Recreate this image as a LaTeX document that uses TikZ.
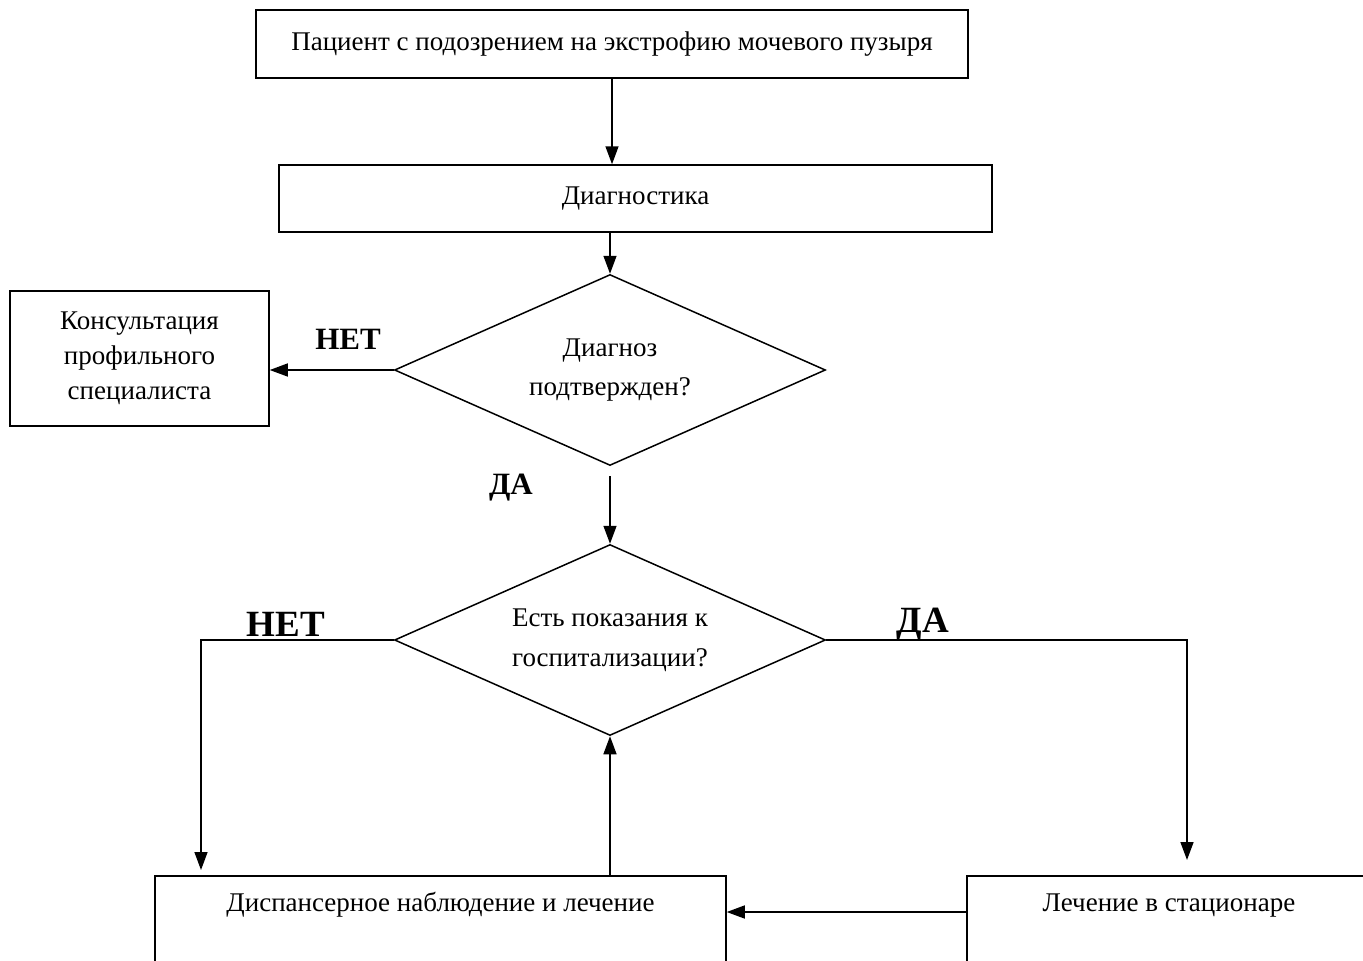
\documentclass[tikz,border=0pt]{standalone}
\usepackage{fontspec}
\setmainfont{Liberation Serif}
\usetikzlibrary{positioning,arrows.meta,shapes.geometric}

\begin{document}
\begin{tikzpicture}[x=1pt, y=-1pt,
  font=\fontsize{27}{37}\selectfont,
  box/.style={draw, line width=1.5pt, align=center, inner sep=0pt},
  choice/.style={draw, diamond, aspect=2.26, line width=1.5pt, inner sep=0pt, minimum width=431pt, minimum height=191pt},
  flow/.style={-{Triangle[length=18pt, width=13pt]}, line width=1.5pt},
  link/.style={line width=1.5pt},
  lbl/.style={font=\fontsize{31}{31}\selectfont\bfseries},
  biglbl/.style={font=\fontsize{37}{37}\selectfont\bfseries}
]
  \clip (0,0) rectangle (1363,961);
  % boxes
  \node[box, minimum width=712pt, minimum height=68pt] (pat) at (612,44) {Пациент с подозрением на экстрофию мочевого пузыря};
  \node[box, minimum width=713pt, minimum height=67pt] (diag) at (635.5,198.5) {Диагностика};
  \node[choice, align=center] (conf) at (610,370) {Диагноз\\[2pt]подтвержден?};
  \node[box, minimum width=259pt, minimum height=135pt, font=\fontsize{27}{35}\selectfont] (cons) at (139.5,358.5) {Консультация\\профильного\\специалиста};
  \node[choice, align=left] (hosp) at (610,640) {Есть показания к\\[3pt]госпитализации?};
  \node[box, anchor=north, minimum width=571pt, inner ysep=18pt, text height=18pt, text depth=100pt] (obs) at (440.5,875) {Диспансерное наблюдение и лечение};
  \node[box, anchor=north, minimum width=404pt, inner ysep=18pt, text height=18pt, text depth=100pt] (stat) at (1169,875) {Лечение в стационаре};
  % labels
  \node[lbl] (no1) at (348,339) {НЕТ};
  \node[lbl] (yes1) at (511,488) {ДА};
  \node[biglbl] (no2) at (286,624) {НЕТ};
  \node[biglbl] (yes2) at (923,624) {ДА};
  % connectors
  \draw[flow] (pat.south) -- (pat.south |- diag.north);
  \draw[flow] (diag.south -| conf.north) -- (conf.north);
  \draw[flow] (conf.west) -- (conf.west -| cons.east);
  \draw[flow] ([yshift=-10pt]conf.south) -- (hosp.north);
  \coordinate (nobend) at (201,640);
  \coordinate (yesbend) at (1187,640);
  \draw[flow] (hosp.west) -- (nobend) -- ([yshift=5pt]nobend |- obs.north);
  \draw[flow] (hosp.east) -- (yesbend) -- ([yshift=15pt]yesbend |- stat.north);
  \draw[flow] (obs.north -| hosp.south) -- (hosp.south);
  \coordinate (back) at ([yshift=-37pt]stat.north west);
  \draw[flow] (back) -- (back -| obs.east);
\end{tikzpicture}
\end{document}
